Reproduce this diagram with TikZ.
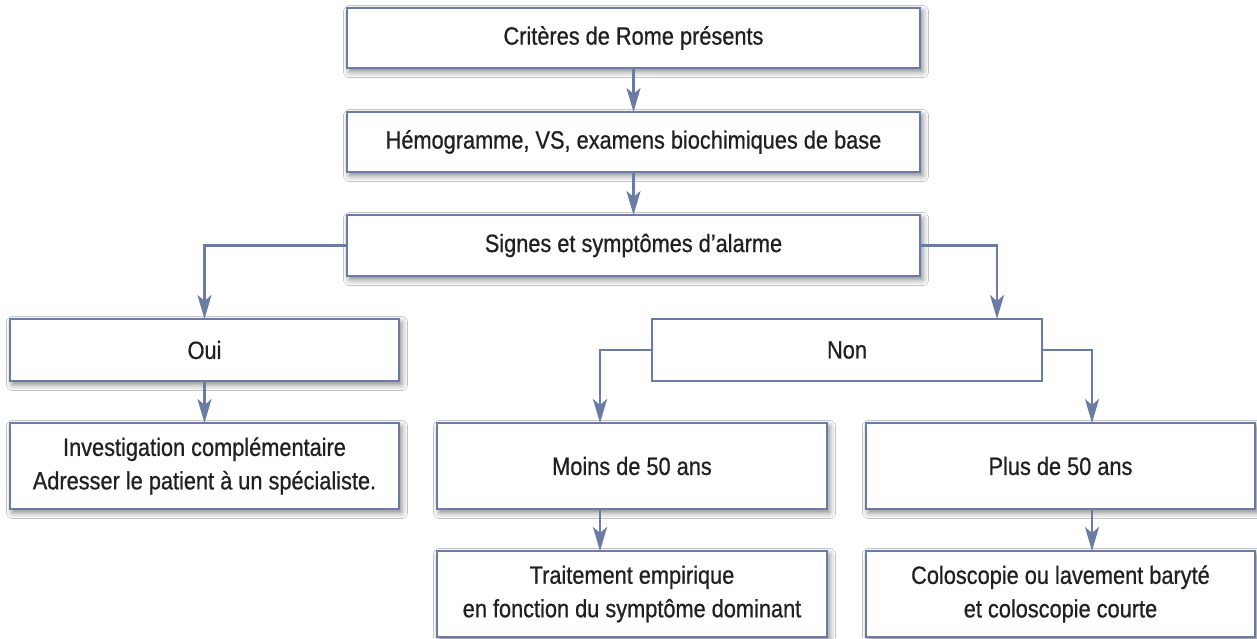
\documentclass[tikz,border=0pt]{standalone}
\usepackage{fontspec}
\setmainfont{Liberation Sans}[FakeStretch=0.87,FakeBold=0.7]
\usetikzlibrary{arrows.meta,shadows.blur,calc}
\definecolor{boxblue}{RGB}{106,124,164}
\definecolor{txt}{RGB}{35,31,32}
\begin{document}
\begin{tikzpicture}[x=1pt,y=-1pt,
  plainbox/.style={draw=boxblue,line width=2.8pt,fill=white,inner sep=0pt,outer sep=0pt,
    align=center,font=\fontsize{25}{33.5}\selectfont,text=txt},
  box/.style={plainbox,
    blur shadow={shadow xshift=2.5pt,shadow yshift=-3.5pt,shadow blur radius=6pt,shadow opacity=50}},
  conn/.style={draw=boxblue,line width=2.6pt,-{Stealth[length=24pt,width=14pt,inset=6pt]}}]
\useasboundingbox (0,0) rectangle (1257,638);
\fill[white] (0,0) rectangle (1257,638);
\node[box,minimum width=573pt,minimum height=60pt] (b1) at (633.5,38) {Critères de Rome présents};
\node[box,minimum width=573pt,minimum height=60pt] (b2) at (633.5,142) {Hémogramme, VS, examens biochimiques de base};
\node[box,minimum width=573pt,minimum height=61pt] (b3) at (633.5,245.5) {Signes et symptômes d’alarme};
\node[box,minimum width=389pt,minimum height=62pt] (oui) at (204.5,350) {Oui};
\node[plainbox,minimum width=390pt,minimum height=62pt] (non) at (847,350) {Non};
\node[box,minimum width=389pt,minimum height=86pt] (inv) at (204.5,466) {Investigation complémentaire\\Adresser le patient à un spécialiste.};
\node[box,minimum width=390pt,minimum height=86pt] (moins) at (632,466) {Moins de 50 ans};
\node[box,minimum width=389pt,minimum height=86pt] (plus) at (1060.5,466) {Plus de 50 ans};
\node[box,minimum width=390pt,minimum height=86pt] (trait) at (632,594) {Traitement empirique\\en fonction du symptôme dominant};
\node[box,minimum width=389pt,minimum height=86pt] (colo) at (1060.5,594) {Coloscopie ou lavement baryté\\et coloscopie courte};
\draw[conn] (b1) -- (b2);
\draw[conn] (b2) -- (b3);
\draw[conn] (b3.west) -| (oui.north);
\draw[conn] (b3.east) -| ([xshift=150pt]non.north);
\draw[conn] (oui) -- (inv);
\draw[conn] (non.west) -| ([xshift=-32pt]moins.north);
\draw[conn] (non.east) -| ([xshift=31.5pt]plus.north);
\draw[conn] ([xshift=-32pt]moins.south) -- ([xshift=-32pt]trait.north);
\draw[conn] ([xshift=31.5pt]plus.south) -- ([xshift=31.5pt]colo.north);
\end{tikzpicture}
\end{document}
